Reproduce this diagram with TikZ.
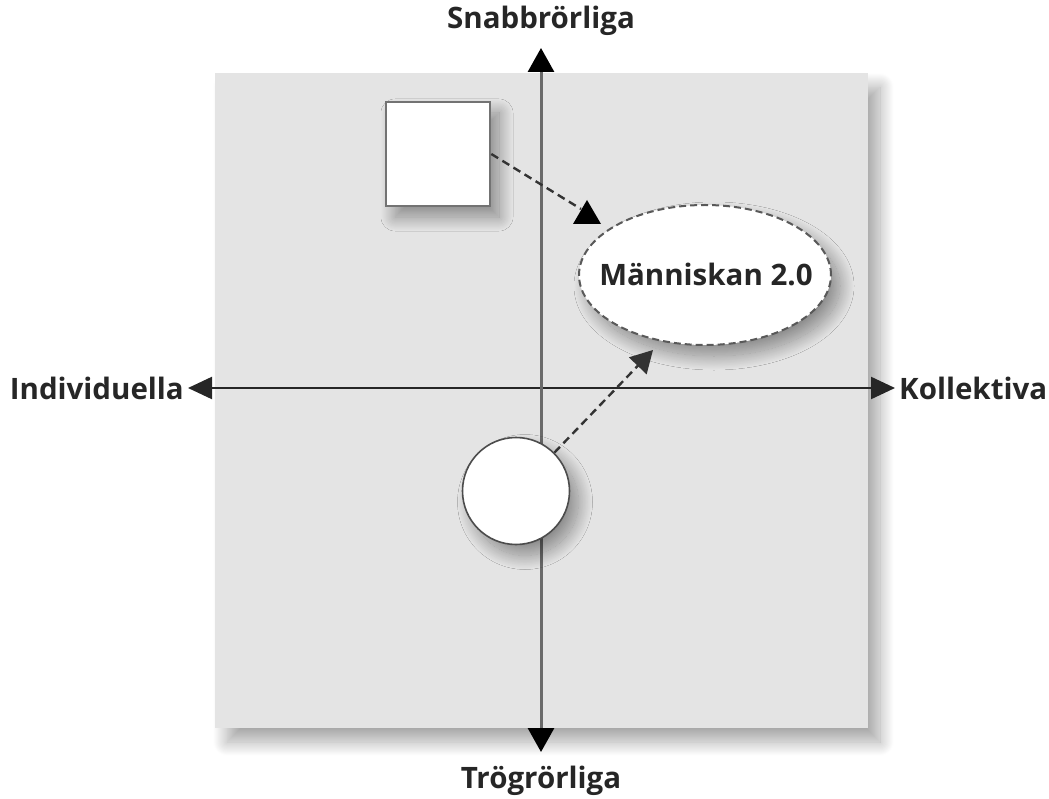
\documentclass[tikz,border=0pt]{standalone}
\usepackage{fontspec}
\setmainfont{Open Sans}
\usetikzlibrary{arrows.meta,shadows.blur,shapes.geometric}
\definecolor{panel}{HTML}{E4E4E4}
\definecolor{axisgray}{HTML}{6A6A6A}
\begin{document}
\begin{tikzpicture}[x=1pt,y=-1pt,
  lbl/.style={font=\fontsize{29.5}{32}\selectfont\bfseries, text=black!85, inner sep=0pt},
  shad/.style={blur shadow={shadow xshift=9pt, shadow yshift=-11pt, shadow blur radius=14pt, shadow blur steps=30, shadow opacity=40}},
  dasharrow/.style={draw=black!80, line width=2.4pt, dash pattern=on 8pt off 5pt}
]
\useasboundingbox (0,0) rectangle (1049,799);
% panel
\fill[panel, blur shadow={shadow xshift=12pt, shadow yshift=-14pt, shadow blur radius=14pt, shadow blur steps=30, shadow opacity=35}] (215,73) rectangle (868,728);
% axes
\coordinate (ytop) at (541,48);
\coordinate (ybot) at (541,752);
\coordinate (xl) at (188,388);
\coordinate (xr) at (895,388);
\draw[draw=black!85, line width=2.2pt, {Triangle[length=24pt,width=22pt]}-{Triangle[length=24pt,width=22pt]}] (xl) -- (xr);
\draw[draw=axisgray, line width=3pt, {Triangle[length=24pt,width=26pt,fill=black,color=black]}-{Triangle[length=24pt,width=26pt,fill=black,color=black]}] (ybot) -- (ytop);
% labels
\node[lbl, anchor=south] (snab) at (541,36) {Snabbrörliga};
\node[lbl, anchor=north] (trog) at (541,766) {Trögrörliga};
\node[lbl, anchor=east] (ind) at (184,388) {Individuella};
\node[lbl, anchor=west] (kol) at (899,388) {Kollektiva};
% square
\node[draw=black!55, line width=2.6pt, fill=white, minimum width=104pt, minimum height=104pt, inner sep=0pt, shad] (sq) at (438,154) {};
% ellipse
\node[ellipse, draw=black!65, line width=2pt, dash pattern=on 7pt off 4pt, fill=white, minimum width=252pt, minimum height=140pt, inner sep=0pt, shad] (ell) at (705,275) {};
\node[lbl] (elltxt) at (706,274) {Människan 2.0};
% circle
\node[circle, draw=black!70, line width=1.6pt, fill=white, minimum size=107pt, inner sep=0pt, shad] (circ) at (516,491) {};
% arrow 1 (square -> ellipse) with upright triangle head
\coordinate (t1) at (581,209);
\draw[dasharrow] (sq.east) -- (t1);
\fill[black] (587,200) -- (601,224) -- (573,224) -- cycle;
% arrow 2 (circle -> ellipse)
\coordinate (t2) at (653,350);
\draw[dasharrow, -{Triangle[length=22pt,width=24pt,sep=0pt]}] (circ.45) -- (t2);
\end{tikzpicture}
\end{document}
